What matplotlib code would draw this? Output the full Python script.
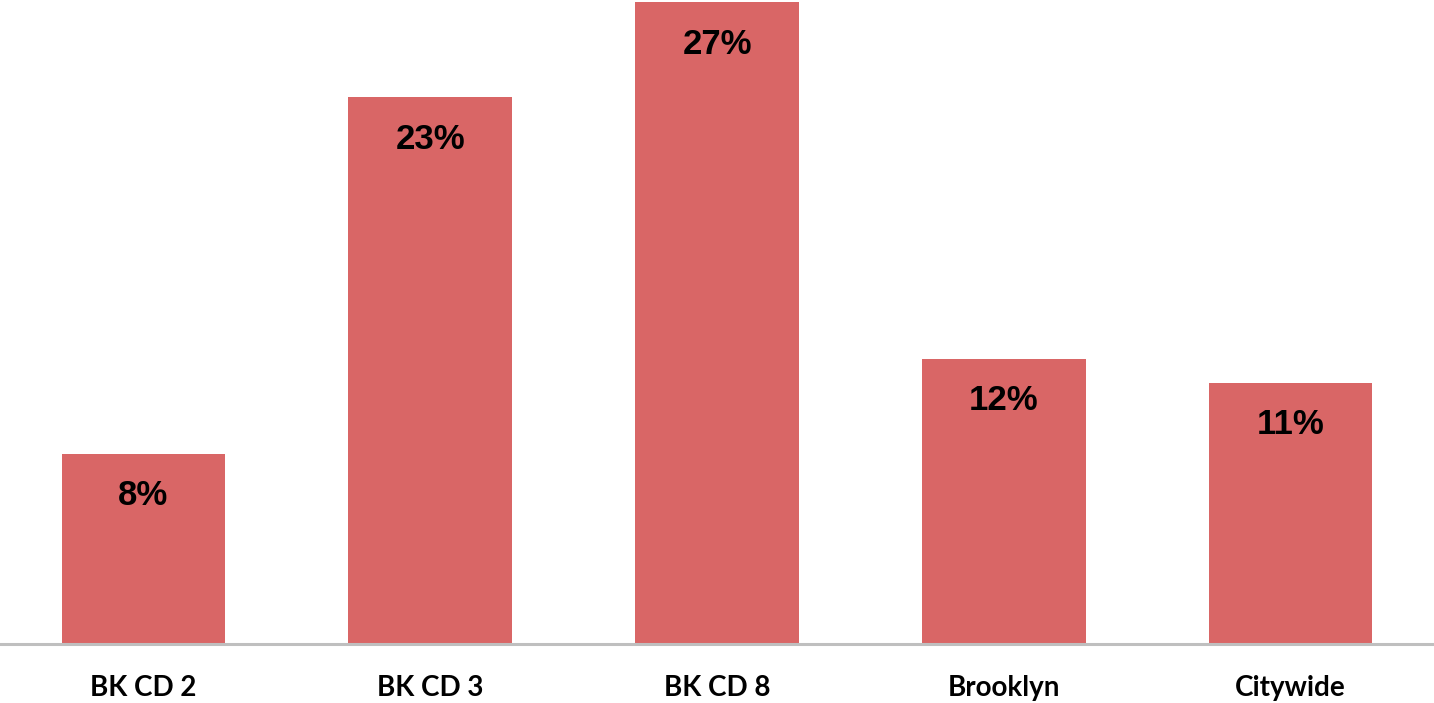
import matplotlib
matplotlib.use("Agg")
import matplotlib.pyplot as plt

categories = ["BK CD 2", "BK CD 3", "BK CD 8", "Brooklyn", "Citywide"]
values = [8, 23, 27, 12, 11]
value_labels = ["8%", "23%", "27%", "12%", "11%"]

bar_color = "#D96666"
axis_color = "#BFBFBF"

fig = plt.figure(figsize=(14.34, 7.03), dpi=100)
ax = fig.add_axes([0, 59 / 703, 1, 644 / 703])

x = list(range(len(categories)))
bars = ax.bar(x, values, width=0.57, color=bar_color, zorder=2)

ax.set_xlim(-0.5, len(categories) - 0.5)
ax.set_ylim(0, 27.1)

for spine in ["top", "right", "left"]:
    ax.spines[spine].set_visible(False)
ax.spines["bottom"].set_color(axis_color)
ax.spines["bottom"].set_linewidth(2.2)
ax.spines["bottom"].set_zorder(3)

ax.set_yticks([])
ax.set_xticks(x)
ax.set_xticklabels(categories, fontfamily="Lato", fontweight="bold", fontsize=20, color="black")
ax.tick_params(axis="x", length=0, pad=22)

for bar, lab in zip(bars, value_labels):
    ax.annotate(lab, xy=(bar.get_x() + bar.get_width() / 2, bar.get_height()),
                xytext=(0, -30), textcoords="offset points",
                ha="center", va="center", fontfamily="Liberation Sans",
                fontweight="bold", fontsize=25, color="black", zorder=4)

fig.savefig("out.png", dpi=100)
